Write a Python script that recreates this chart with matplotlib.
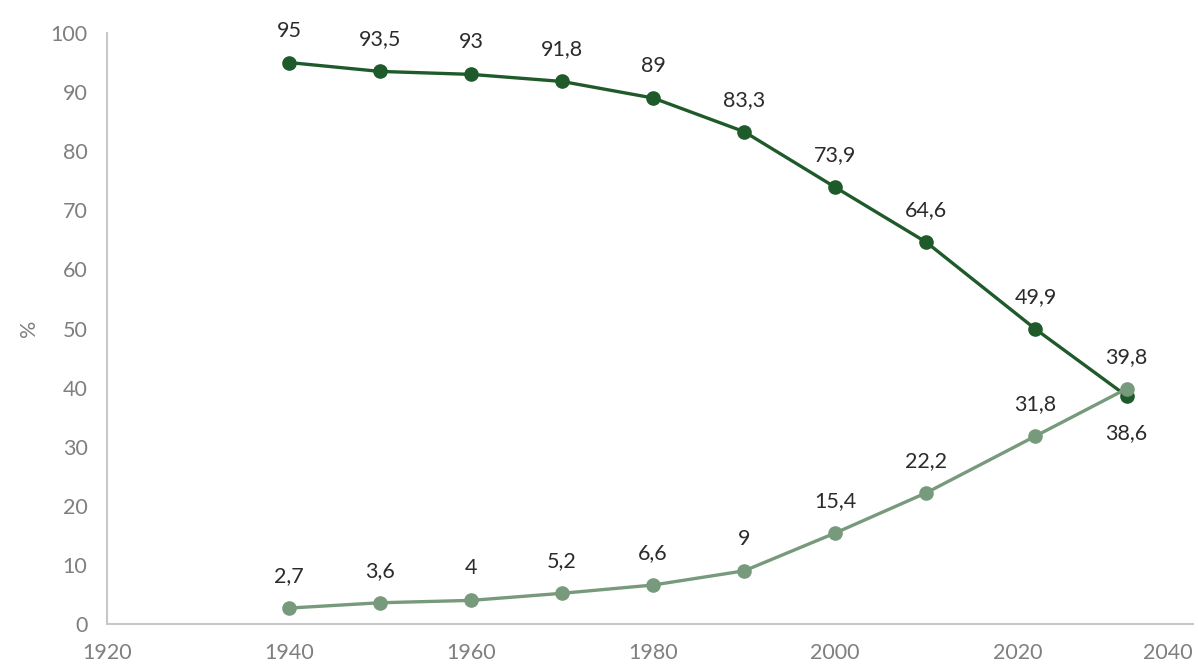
import matplotlib
matplotlib.use("Agg")
import matplotlib.pyplot as plt

years = [1940, 1950, 1960, 1970, 1980, 1990, 2000, 2010, 2022, 2032]
series_dark = [95, 93.5, 93, 91.8, 89, 83.3, 73.9, 64.6, 49.9, 38.6]
series_light = [2.7, 3.6, 4, 5.2, 6.6, 9, 15.4, 22.2, 31.8, 39.8]
x_ticks = [1920, 1940, 1960, 1980, 2000, 2020]
y_ticks = [0, 10, 20, 30, 40, 50, 60, 70, 80, 90, 100]

DARK = "#1f5a2b"
LIGHT = "#789a7c"
TICK_GREY = "#7f7f7f"
LABEL_COL = "#2b2b2b"

plt.rcParams["font.family"] = ["Lato", "DejaVu Sans"]

fig = plt.figure(figsize=(11.98, 6.64), dpi=100)
ax = fig.add_axes([0.0893, 0.0602, 0.9065, 0.8901])

ax.plot(years, series_dark, color=DARK, lw=2.4, marker="o", ms=9.5, zorder=3)
ax.plot(years, series_light, color=LIGHT, lw=2.4, marker="o", ms=9.5, zorder=4)

def fmt(v):
    s = f"{v:g}"
    return s.replace(".", ",")

for x, v in zip(years, series_dark):
    below = v < 40
    ax.annotate(fmt(v), (x, v), xytext=(0, -27 if below else 23),
                textcoords="offset points", ha="center", va="center",
                fontsize=15.5, color=LABEL_COL)
for x, v in zip(years, series_light):
    ax.annotate(fmt(v), (x, v), xytext=(0, 23), textcoords="offset points",
                ha="center", va="center", fontsize=15.5, color=LABEL_COL)

ax.set_xlim(1920, 2039.3)
ax.set_ylim(0, 100)
ax.set_xticks(x_ticks)
ax.set_yticks(y_ticks)
ax.tick_params(axis="both", length=0, labelsize=15.5, labelcolor=TICK_GREY)
ax.tick_params(axis="x", pad=14)
ax.tick_params(axis="y", pad=14)
# the last year sits at the axis end, so its label is right-aligned
ax.annotate("2040", (2039.3, 0), xycoords=ax.get_xaxis_transform(),
            xytext=(0, -14), textcoords="offset points",
            ha="right", va="top", fontsize=15.5, color=TICK_GREY)

for s in ("top", "right"):
    ax.spines[s].set_visible(False)
for s in ("left", "bottom"):
    ax.spines[s].set_color("#c8c8c8")
    ax.spines[s].set_linewidth(1.5)

ax.set_ylabel("%", fontsize=15.5, color=TICK_GREY, labelpad=8)

fig.savefig("out.png", dpi=100)
